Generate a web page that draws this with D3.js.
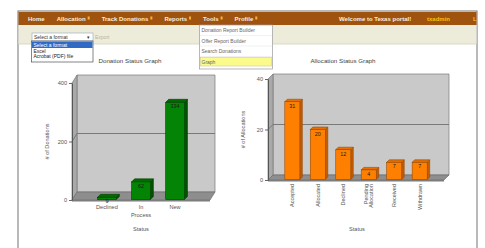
<!DOCTYPE html>
<meta charset="utf-8">
<script src="https://d3js.org/d3.v7.min.js"></script>
<style>
  body { margin: 0; background: #fff; }
  text { font-family: "Liberation Sans", Arial, sans-serif; }
</style>
<div id="page"></div>
<script>

// portal chrome
var menuItems = ["Home", "Allocation", "Track Donations", "Reports", "Tools", "Profile"];
var toolsItems = ["Donation Report Builder", "Offer Report Builder", "Search Donations", "Graph"];
var formatOptions = ["Select a format", "Excel", "Acrobat (PDF) file"];

// chart data
var donationStatus = ["Declined", "In Process", "New"];
var donationCounts = [9, 62, 334];
var donationTicks = [0, 200, 400];

var allocationStatus = ["Accepted", "Allocated", "Declined", "Pending Allocation", "Received", "Withdrawn"];
var allocationCounts = [31, 20, 12, 4, 7, 7];
var allocationTicks = [0, 20, 40];

var W = 485, H = 248;
var svg = d3.select("#page").append("svg")
    .attr("width", W).attr("height", H);

svg.append("rect").attr("width", W).attr("height", H).attr("fill", "#fff");

// outer frame
svg.append("rect")
    .attr("x", 18).attr("y", 11).attr("width", 459).attr("height", 250)
    .attr("fill", "#fff").attr("stroke", "#8a8a8a").attr("stroke-width", 1.2);

// brown header
svg.append("rect").attr("x", 18.5).attr("y", 12).attr("width", 458).attr("height", 13)
    .attr("fill", "#a0530f");

var mx = 28;
menuItems.forEach(function(m, i) {
  var t = svg.append("text").attr("x", mx).attr("y", 20.5)
      .attr("font-size", 6).attr("font-weight", "bold").attr("fill", "#fbeedd").text(m);
  mx += t.node().getComputedTextLength();
  if (i > 0) {
    svg.append("rect").attr("x", mx + 2).attr("y", 16.5).attr("width", 2).attr("height", 3)
        .attr("fill", "#f2b13a");
    mx += 4;
  }
  mx += 12;
});

svg.append("text").attr("x", 339).attr("y", 20.5).attr("font-size", 6)
    .attr("font-weight", "bold").attr("fill", "#fbeedd").text("Welcome to Texas portal!");
svg.append("text").attr("x", 427).attr("y", 20.5).attr("font-size", 6)
    .attr("font-weight", "bold").attr("fill", "#f5c400").text("txadmin");
svg.append("text").attr("x", 473).attr("y", 20.5).attr("font-size", 6)
    .attr("font-weight", "bold").attr("fill", "#f5c400").text("L");

// beige tool strip
svg.append("rect").attr("x", 18.5).attr("y", 25).attr("width", 458).attr("height", 19)
    .attr("fill", "#edecdb");
svg.append("line").attr("x1", 18.5).attr("x2", 476.5).attr("y1", 44).attr("y2", 44)
    .attr("stroke", "#d6d3bd").attr("stroke-width", 0.8);

// format select + open list
svg.append("rect").attr("x", 32).attr("y", 33).attr("width", 61).attr("height", 8)
    .attr("fill", "#fff").attr("stroke", "#8fa6c0").attr("stroke-width", 0.6);
svg.append("text").attr("x", 34).attr("y", 39).attr("font-size", 5).attr("fill", "#333")
    .text(formatOptions[0]);
svg.append("text").attr("x", 87).attr("y", 39).attr("font-size", 4.5).attr("fill", "#333").text("\u25BE");
svg.append("text").attr("x", 95).attr("y", 39).attr("font-size", 5).attr("fill", "#b8b4a0").text("Export");

svg.append("rect").attr("x", 31.5).attr("y", 41).attr("width", 61.5).attr("height", 21)
    .attr("fill", "#fff").attr("stroke", "#333").attr("stroke-width", 0.6);
svg.append("rect").attr("x", 32).attr("y", 41.5).attr("width", 60.5).attr("height", 6.5)
    .attr("fill", "#316ac5");
formatOptions.forEach(function(o, i) {
  svg.append("text").attr("x", 33.5).attr("y", 46.8 + i * 5.8).attr("font-size", 5)
      .attr("fill", i === 0 ? "#fff" : "#222").text(o);
});

// tools drop-down
svg.append("rect").attr("x", 199.5).attr("y", 25).attr("width", 73).attr("height", 44)
    .attr("fill", "#fff").attr("stroke", "#9a9a9a").attr("stroke-width", 0.7);
toolsItems.forEach(function(t, i) {
  var ty = 25 + i * 10.5;
  if (i === toolsItems.length - 1) {
    svg.append("rect").attr("x", 200.5).attr("y", ty + 1).attr("width", 71).attr("height", 8.5)
        .attr("fill", "#fbfb8c").attr("stroke", "#c9c27a").attr("stroke-width", 0.5);
  } else {
    svg.append("line").attr("x1", 200).attr("x2", 272).attr("y1", ty + 10.5).attr("y2", ty + 10.5)
        .attr("stroke", "#e2e2e2").attr("stroke-width", 0.5);
  }
  svg.append("text").attr("x", 201.5).attr("y", ty + 7).attr("font-size", 5).attr("fill", "#666").text(t);
});

// 3D bar chart helper
function poly(pts) { return d3.line()(pts) + "Z"; }

function bar3d(opt) {
  var g = svg.append("g");
  var x = d3.scaleBand().domain(opt.categories).range([opt.left, opt.right])
      .paddingInner(opt.pi).paddingOuter(opt.po);
  var y = d3.scaleLinear().domain([0, opt.ticks[opt.ticks.length - 1]]).range([opt.bottom, opt.top]);
  var dx = opt.dx, dy = opt.dy, L = opt.left, R = opt.right, T = opt.top, B = opt.bottom;

  g.append("text").attr("x", opt.titleX).attr("y", 63).attr("text-anchor", "middle")
      .attr("font-size", 6.2).attr("fill", "#444").text(opt.title);

  // walls
  g.append("path").attr("d", poly([[L + dx, T - dy], [R + dx, T - dy], [R + dx, B - dy], [L + dx, B - dy]]))
      .attr("fill", "#c9c9c9").attr("stroke", "#7a7a7a").attr("stroke-width", 0.7);
  g.append("path").attr("d", poly([[L, T], [L + dx, T - dy], [L + dx, B - dy], [L, B]]))
      .attr("fill", "#a9a9a9").attr("stroke", "#7a7a7a").attr("stroke-width", 0.7);
  g.append("path").attr("d", poly([[L, B], [L + dx, B - dy], [R + dx, B - dy], [R, B]]))
      .attr("fill", "#8e8e8e").attr("stroke", "#6e6e6e").attr("stroke-width", 0.7);
  g.append("path").attr("d", poly([[L, B], [R, B], [R, B + 1.5], [L, B + 1.5]]))
      .attr("fill", "#7c7c7c");

  // grid lines
  opt.ticks.slice(1, -1).forEach(function(t) {
    g.append("path").attr("d", d3.line()([[L, y(t)], [L + dx, y(t) - dy], [R + dx, y(t) - dy]]))
        .attr("fill", "none").attr("stroke", "#707070").attr("stroke-width", 0.9);
  });

  // y axis
  var ax = g.append("g").attr("transform", "translate(" + L + ",0)")
      .call(d3.axisLeft(y).tickValues(opt.ticks).tickSize(3).tickSizeOuter(0).tickPadding(2));
  ax.selectAll("text").attr("font-size", 5.6).attr("fill", "#555")
      .attr("font-family", "Liberation Sans, Arial, sans-serif");
  ax.selectAll("line").attr("stroke", "#666");
  ax.select(".domain").attr("stroke", "#555");

  // bars
  var bw = x.bandwidth(), bdx = opt.bdx, bdy = opt.bdy;
  opt.categories.forEach(function(c, i) {
    var v = opt.values[i], bx = x(c), by = y(v), bb = B - 0.5;
    g.append("path").attr("d", poly([[bx + bw, by], [bx + bw + bdx, by - bdy], [bx + bw + bdx, bb - bdy], [bx + bw, bb]]))
        .attr("fill", opt.side).attr("stroke", opt.edge).attr("stroke-width", 0.6);
    g.append("path").attr("d", poly([[bx, by], [bx + bdx, by - bdy], [bx + bw + bdx, by - bdy], [bx + bw, by]]))
        .attr("fill", opt.topc).attr("stroke", opt.edge).attr("stroke-width", 0.6);
    g.append("rect").attr("x", bx).attr("y", by).attr("width", bw).attr("height", bb - by)
        .attr("fill", opt.color).attr("stroke", opt.edge).attr("stroke-width", 0.6);
    g.append("text").attr("x", bx + bw / 2).attr("y", by + 6).attr("text-anchor", "middle")
        .attr("font-size", 5.4).attr("fill", "#1a1a1a").text(v);

    // category label
    var lines = c.split(" ");
    var cx = bx + bw / 2;
    if (opt.rotate) {
      var tl = g.append("text").attr("transform", "translate(" + cx + "," + (B + 4) + ") rotate(-90)")
          .attr("text-anchor", "end").attr("font-size", 5.5).attr("fill", "#555");
      lines.forEach(function(s, k) {
        tl.append("tspan").attr("x", 0).attr("y", 2 + (k - (lines.length - 1) / 2) * 5.5).text(s);
      });
    } else {
      lines.forEach(function(s, k) {
        g.append("text").attr("x", cx).attr("y", B + 8.5 + k * 8).attr("text-anchor", "middle")
            .attr("font-size", 5.6).attr("fill", "#555").text(s);
      });
    }
  });

  g.append("text").attr("x", opt.xTitleX).attr("y", 231).attr("text-anchor", "middle")
      .attr("font-size", 5.6).attr("fill", "#555").text("Status");
  g.append("text").attr("transform", "translate(" + opt.yTitleX + "," + ((T + B) / 2) + ") rotate(-90)")
      .attr("text-anchor", "middle").attr("font-size", 5.6).attr("fill", "#555").text(opt.yTitle);
}

bar3d({
  title: "Donation Status Graph", yTitle: "# of Donations",
  categories: donationStatus, values: donationCounts, ticks: donationTicks,
  left: 72, right: 210, top: 83, bottom: 200, dx: 5, dy: 8, bdx: 3, bdy: 3,
  pi: 0.45, po: 0.75, rotate: false, titleX: 130, xTitleX: 141, yTitleX: 49,
  color: "#048404", topc: "#026a02", side: "#015201", edge: "#013d01"
});

bar3d({
  title: "Allocation Status Graph", yTitle: "# of Allocations",
  categories: allocationStatus, values: allocationCounts, ticks: allocationTicks,
  left: 268, right: 444, top: 79, bottom: 180, dx: 5, dy: 5, bdx: 2.5, bdy: 2.5,
  pi: 0.41, po: 0.66, rotate: true, titleX: 343, xTitleX: 357, yTitleX: 245,
  color: "#ff8000", topc: "#e57000", side: "#c45c00", edge: "#9a4800"
});

</script>
